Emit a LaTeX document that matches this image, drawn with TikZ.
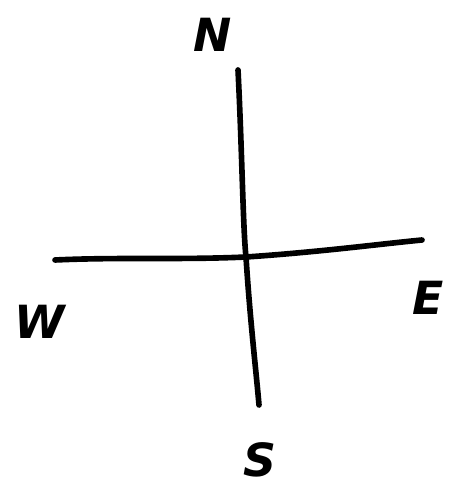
\documentclass[tikz,border=0pt]{standalone}
\usepackage{fontspec}
\setmainfont{DejaVu Sans}
\begin{document}
\begin{tikzpicture}[x=0.01cm,y=-0.01cm,
  stroke/.style={line width=1.6pt,line cap=round,line join=round,black},
  lbl/.style={font=\fontsize{13}{15}\selectfont\bfseries\itshape,inner sep=0pt}]
\useasboundingbox (0,0) rectangle (461,483);
\coordinate (ntop) at (238,70);
\coordinate (sbot) at (259,405);
\coordinate (wend) at (55,260);
\coordinate (eend) at (422,240);
\draw[stroke] (ntop) .. controls (242,150) and (243,230) .. (246,257) .. controls (250,320) and (256,370) .. (sbot);
\draw[stroke] (wend) .. controls (120,257) and (180,260) .. (246,257) .. controls (320,252) and (380,244) .. (eend);
\node[lbl] (n) at (213,35) {N};
\node[lbl] (w) at (40,322) {W};
\node[lbl] (e) at (428,298) {E};
\node[lbl] (s) at (260,460) {S};
\end{tikzpicture}
\end{document}
